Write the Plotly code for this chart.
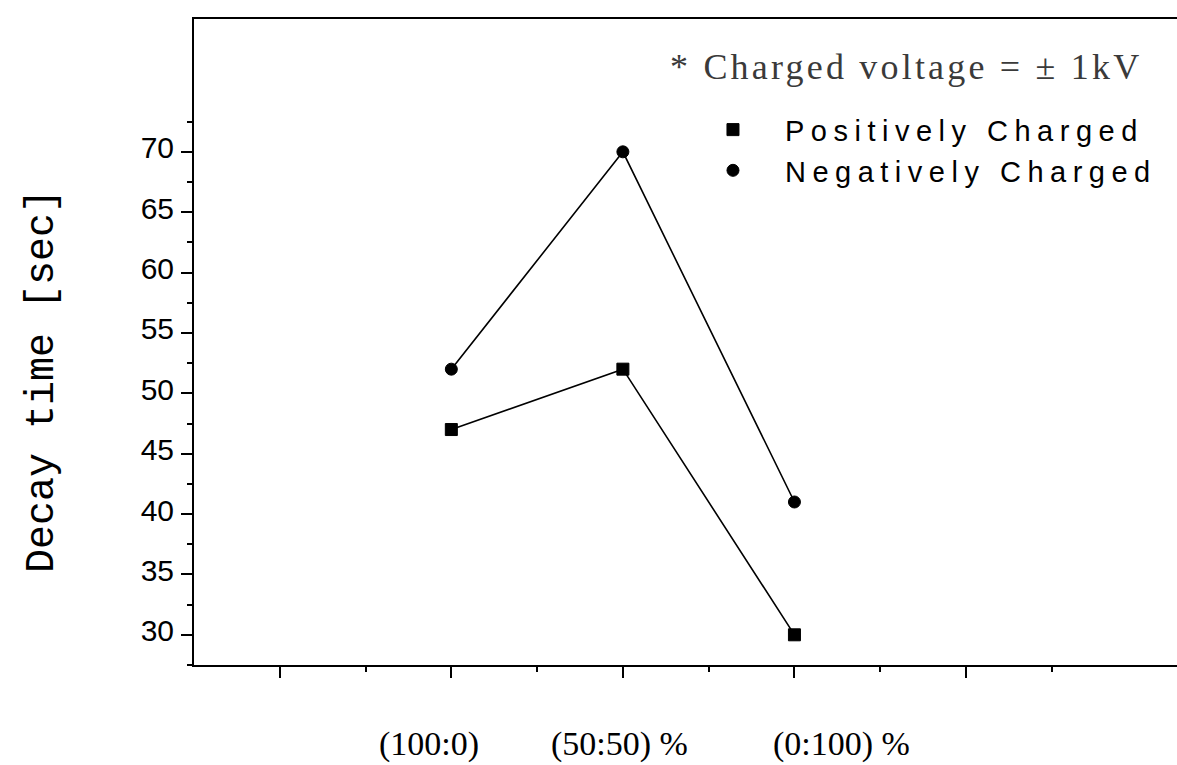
import numpy as np
import plotly.graph_objects as go

# ---- data ----
categories = ["(100:0)", "(50:50) %", "(0:100) %"]
x_pos = [1, 2, 3]
positive = [47, 52, 30]
negative = [52, 70, 41]
series_names = ["Positively Charged", "Negatively Charged"]
y_tick_vals = [30, 35, 40, 45, 50, 55, 60, 65, 70]
note_text = "* Charged voltage = \u00b1 1kV"
y_title = "Decay time [sec]"

fig = go.Figure()

# connecting lines (no legend)
for vals in (positive, negative):
    fig.add_trace(go.Scatter(
        x=x_pos, y=vals, mode="lines",
        line=dict(color="black", width=1.6),
        showlegend=False, hoverinfo="skip"))

# markers (legend entries)
for vals, name, sym in ((positive, series_names[0], "square"),
                        (negative, series_names[1], "circle")):
    fig.add_trace(go.Scatter(
        x=x_pos, y=vals, mode="markers",
        marker=dict(symbol=sym, size=12, color="black",
                    line=dict(color="black", width=1)),
        name="<span style='letter-spacing:6.5px'>" + name + "</span>"))

# category labels below the axis
label_shift = [-22, -3, 47]
for xp, lab, sh in zip(x_pos, categories, label_shift):
    fig.add_annotation(
        x=xp, y=-0.123, xref="x", yref="paper", text=lab,
        showarrow=False, xanchor="center", yanchor="middle", xshift=sh,
        font=dict(family="Liberation Serif, Times New Roman, serif",
                  size=34, color="black"))

# note text
fig.add_annotation(
    x=0.482, y=0.926, xref="paper", yref="paper",
    text="<span style='letter-spacing:3.2px'>" + note_text + "</span>",
    showarrow=False, xanchor="left", yanchor="middle",
    font=dict(family="Liberation Serif, Times New Roman, serif",
              size=36, color="#3a3a3a"))

# y-axis title
fig.add_annotation(
    x=-0.1546, y=0.4396, xref="paper", yref="paper",
    text=y_title, textangle=-90, showarrow=False,
    xanchor="center", yanchor="middle",
    font=dict(family="Liberation Mono, Courier New, monospace",
              size=40, color="black"))

fig.update_layout(
    width=1177, height=765,
    margin=dict(l=194, r=0, t=19, b=100),
    paper_bgcolor="white", plot_bgcolor="white",
    showlegend=True,
    legend=dict(x=0.4954, y=0.868, xanchor="left", yanchor="top",
                bgcolor="rgba(0,0,0,0)", borderwidth=0,
                itemwidth=94, tracegroupgap=0,
                font=dict(family="Liberation Sans, Arial, sans-serif",
                          size=29, color="black")),
    xaxis=dict(
        range=[-0.5, 5.23], showgrid=False, zeroline=False,
        showline=True, linecolor="black", linewidth=2, mirror=True,
        tickmode="array", tickvals=[0, 1, 2, 3, 4], showticklabels=False,
        ticks="outside", ticklen=11, tickwidth=1.5, tickcolor="black",
        minor=dict(tickmode="array", tickvals=[0.5, 1.5, 2.5, 3.5, 4.5],
                   ticks="outside", ticklen=5, tickwidth=1.5,
                   tickcolor="black", showgrid=False)),
    yaxis=dict(
        range=[27.5, 81.0], showgrid=False, zeroline=False,
        showline=True, linecolor="black", linewidth=2, mirror=False,
        tickmode="array", tickvals=y_tick_vals,
        ticks="outside", ticklen=11, tickwidth=1.5, tickcolor="black",
        ticklabelstandoff=1, ticklabelshift=-4,
        tickfont=dict(family="Liberation Sans, Arial, sans-serif",
                      size=30, color="black"),
        minor=dict(tickmode="array",
                   tickvals=list(np.arange(27.5, 75, 5)),
                   ticks="outside", ticklen=5, tickwidth=1.5,
                   tickcolor="black", showgrid=False)),
)

fig.write_html("out.html",
               config={"displayModeBar": False},
               post_script="document.body.style.margin='0';")
